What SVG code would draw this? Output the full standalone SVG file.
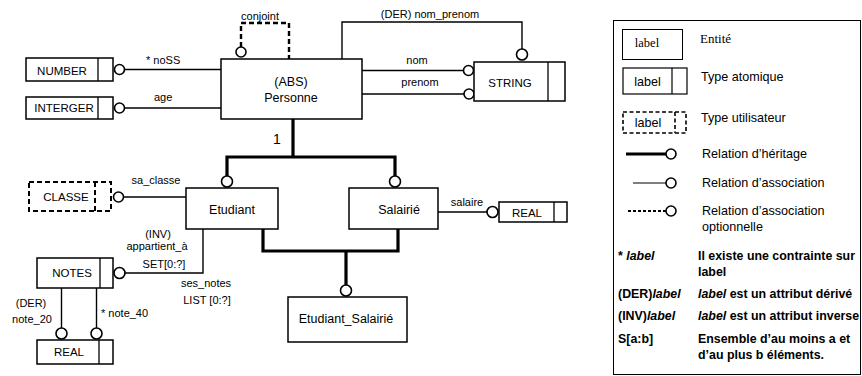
<svg xmlns="http://www.w3.org/2000/svg" width="862" height="376" viewBox="0 0 862 376">
<style>
  text { font-family: "Liberation Sans", Arial, sans-serif; fill: #000; }
  .box { fill: #fff; stroke: #000; stroke-width: 1.5; }
  .dbox { fill: #fff; stroke: #000; stroke-width: 2; stroke-dasharray: 5 3; }
  .div { stroke: #000; stroke-width: 1.3; }
  .ddiv { stroke: #000; stroke-width: 2; stroke-dasharray: 5 3; }
  .assoc { fill: none; stroke: #000; stroke-width: 1.4; }
  .opt { fill: none; stroke: #000; stroke-width: 2.4; stroke-dasharray: 5 3; }
  .herit { fill: none; stroke: #000; stroke-width: 3.2; }
  .end { fill: #fff; stroke: #000; stroke-width: 1.6; }
  .name { font-size: 12.5px; text-anchor: middle; }
  .lbl { font-size: 11px; }
  .mid { text-anchor: middle; }
  .leg { font-size: 12.6px; }
  .legb { font-size: 12.4px; font-weight: bold; }
  .serif { font-family: "Liberation Serif", "Times New Roman", serif; }
</style>

<!-- connectors -->
<g id="connectors">
  <!-- inheritance -->
  <path class="herit" d="M293,119 V157 M227,176 V157 H395 V176"/>
  <path class="herit" d="M263,229 V251 H398 V229 M346,251 V285"/>
  <circle class="end" cx="227" cy="181.5" r="5.5"/>
  <circle class="end" cx="395" cy="181.5" r="5.5"/>
  <circle class="end" cx="346" cy="290.5" r="5.5"/>
  <!-- attributes -->
  <path class="assoc" d="M124.5,69.5 H221"/>
  <circle class="end" cx="119.5" cy="69.5" r="5"/>
  <path class="assoc" d="M124.5,108 H221"/>
  <circle class="end" cx="119.5" cy="108" r="5"/>
  <path class="opt" d="M241,47 V23 H289 V59"/>
  <circle class="end" cx="241" cy="52" r="5"/>
  <path class="assoc" d="M342,59 V22 H522 V49"/>
  <circle class="end" cx="522" cy="54.5" r="5.5"/>
  <path class="assoc" d="M362,70.5 H463.5"/>
  <circle class="end" cx="468.5" cy="70.5" r="5"/>
  <path class="assoc" d="M362,94 H464"/>
  <circle class="end" cx="469" cy="94" r="5"/>
  <path class="assoc" d="M438,212 H487"/>
  <circle class="end" cx="492.5" cy="212" r="5.5"/>
  <path class="assoc" d="M186,197 H123.5"/>
  <circle class="end" cx="118.5" cy="197" r="5"/>
  <path class="assoc" d="M203,229 V273 H125"/>
  <circle class="end" cx="119.5" cy="273" r="5.5"/>
  <path class="assoc" d="M61.5,288 V328"/>
  <circle class="end" cx="61.5" cy="333.5" r="5.5"/>
  <path class="assoc" d="M96.5,288 V328"/>
  <circle class="end" cx="96.5" cy="333.5" r="5.5"/>
</g>

<!-- connector labels -->
<g id="labels">
  <text class="lbl mid" x="260" y="20">conjoint</text>
  <text class="lbl" x="146" y="64">* noSS</text>
  <text class="lbl" x="154" y="101">age</text>
  <text class="lbl mid" x="430" y="18">(DER) nom_prenom</text>
  <text class="lbl mid" x="417" y="63.5">nom</text>
  <text class="lbl mid" x="420" y="86">prenom</text>
  <text x="277" y="144" style="font-size:14px" class="mid">1</text>
  <text class="lbl mid" x="156" y="184">sa_classe</text>
  <text class="lbl mid" x="467" y="206">salaire</text>
  <text class="lbl mid" x="158" y="238">(INV)</text>
  <text class="lbl mid" x="157" y="250">appartient_à</text>
  <text class="lbl mid" x="164" y="268">SET[0:?]</text>
  <text class="lbl mid" x="206" y="287">ses_notes</text>
  <text class="lbl mid" x="207" y="304">LIST [0:?]</text>
  <text class="lbl mid" x="31" y="307">(DER)</text>
  <text class="lbl mid" x="32" y="323">note_20</text>
  <text class="lbl" x="101" y="317">* note_40</text>
</g>

<!-- entities -->
<g id="personne">
  <rect class="box" x="221" y="59" width="141" height="60"/>
  <text class="name" x="291" y="86">(ABS)</text>
  <text class="name" x="291" y="102">Personne</text>
</g>
<g id="etudiant">
  <rect class="box" x="186" y="188" width="92" height="41"/>
  <text class="name" x="232" y="214">Etudiant</text>
</g>
<g id="salarie">
  <rect class="box" x="349" y="188" width="89" height="41"/>
  <text class="name" x="399" y="214">Salairié</text>
</g>
<g id="etudiant_salarie">
  <rect class="box" x="288" y="297" width="119" height="45"/>
  <text class="name" x="346" y="323">Etudiant_Salairié</text>
</g>

<!-- atomic types -->
<g id="number">
  <rect class="box" x="26" y="58" width="87" height="23"/>
  <line class="div" x1="98" y1="58" x2="98" y2="81"/>
  <text class="name" x="62" y="75" style="font-size:11.5px">NUMBER</text>
</g>
<g id="interger">
  <rect class="box" x="26" y="97" width="87" height="22"/>
  <line class="div" x1="98" y1="97" x2="98" y2="119"/>
  <text class="name" x="64" y="112" style="font-size:11.5px">INTERGER</text>
</g>
<g id="string">
  <rect class="box" x="474" y="62" width="91" height="39"/>
  <line class="div" x1="548" y1="62" x2="548" y2="101"/>
  <text class="name" x="510" y="87" style="font-size:11.5px">STRING</text>
</g>
<g id="real_salaire">
  <rect class="box" x="499" y="202" width="68" height="20"/>
  <line class="div" x1="554" y1="202" x2="554" y2="222"/>
  <text class="name" x="527" y="216.5" style="font-size:11.5px">REAL</text>
</g>
<g id="notes">
  <rect class="box" x="37" y="258" width="76" height="30"/>
  <line class="div" x1="100" y1="258" x2="100" y2="288"/>
  <text class="name" x="72" y="277" style="font-size:11.5px">NOTES</text>
</g>
<g id="real_notes">
  <rect class="box" x="37" y="340" width="76" height="24"/>
  <line class="div" x1="99" y1="340" x2="99" y2="364"/>
  <text class="name" x="69" y="356" style="font-size:11.5px">REAL</text>
</g>

<!-- user type -->
<g id="classe">
  <rect class="dbox" x="29" y="182" width="82" height="29"/>
  <line class="ddiv" x1="95" y1="182" x2="95" y2="211"/>
  <text class="name" x="66" y="201" style="font-size:11.5px">CLASSE</text>
</g>

<!-- legend -->
<g id="legend">
  <rect x="613.5" y="20.5" width="247" height="354" fill="#fff" stroke="#000" stroke-width="1"/>
  <rect x="622.5" y="29.5" width="60" height="30" fill="#fff" stroke="#000" stroke-width="1"/>
  <text class="serif" x="647" y="47" style="font-size:12.5px" text-anchor="middle">label</text>
  <text class="serif" x="700" y="43" style="font-size:13px">Entité</text>

  <rect x="623" y="68" width="64" height="26" fill="#fff" stroke="#000" stroke-width="1.2"/>
  <line x1="672" y1="68" x2="672" y2="94" stroke="#000" stroke-width="1.2"/>
  <text class="leg" x="647.5" y="86" text-anchor="middle">label</text>
  <text class="leg" x="701" y="81">Type atomique</text>

  <rect x="623" y="112" width="63" height="21" fill="#fff" stroke="#000" stroke-width="1.6" stroke-dasharray="4 2.5"/>
  <line x1="675" y1="112" x2="675" y2="133" stroke="#000" stroke-width="1.6" stroke-dasharray="4 2.5"/>
  <text class="leg" x="648" y="127" text-anchor="middle">label</text>
  <text class="leg" x="701" y="122">Type utilisateur</text>

  <line x1="626" y1="154" x2="666" y2="154" stroke="#000" stroke-width="3"/>
  <circle class="end" cx="671" cy="154" r="5"/>
  <text class="leg" x="702" y="158">Relation d’héritage</text>

  <line x1="633" y1="183" x2="666" y2="183" stroke="#000" stroke-width="1.2"/>
  <circle class="end" cx="671" cy="183" r="5"/>
  <text class="leg" x="702" y="187">Relation d’association</text>

  <line x1="628" y1="211" x2="666" y2="211" stroke="#000" stroke-width="2" stroke-dasharray="3 2"/>
  <circle class="end" cx="671" cy="211" r="5"/>
  <text class="leg" x="702" y="215">Relation d’association</text>
  <text class="leg" x="702" y="231">optionnelle</text>

  <text class="legb" x="618" y="259.5">* <tspan font-style="italic">label</tspan></text>
  <text class="legb" x="698" y="259.5">Il existe une contrainte sur</text>
  <text class="legb" x="698" y="275.5">label</text>

  <text class="legb" x="618" y="298">(DER)<tspan font-style="italic">label</tspan></text>
  <text class="legb" x="698" y="298"><tspan font-style="italic">label</tspan> est un attribut dérivé</text>

  <text class="legb" x="618" y="320">(INV)<tspan font-style="italic">label</tspan></text>
  <text class="legb" x="698" y="320"><tspan font-style="italic">label</tspan> est un attribut inverse</text>

  <text class="legb" x="618" y="343">S[a:b]</text>
  <text class="legb" x="698" y="343">Ensemble d’au moins a et</text>
  <text class="legb" x="698" y="359">d’au plus b éléments.</text>
</g>
</svg>
